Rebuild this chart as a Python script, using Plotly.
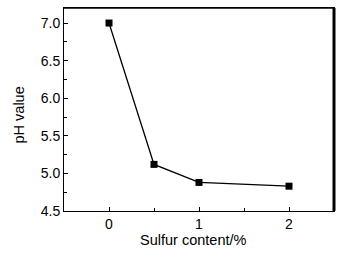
import plotly.graph_objects as go

sulfur = [0, 0.5, 1, 2]
ph = [7.0, 5.12, 4.88, 4.83]
x_ticks = [0, 1, 2]
y_ticks = [4.5, 5.0, 5.5, 6.0, 6.5, 7.0]

fig = go.Figure()
fig.add_trace(go.Scatter(
    x=sulfur, y=ph, mode="lines+markers",
    line=dict(color="black", width=1.3),
    marker=dict(symbol="square", size=7, color="black"),
    showlegend=False,
))

font = dict(family="Liberation Sans, Arial, sans-serif", color="black")
fig.update_layout(
    width=346, height=253,
    margin=dict(l=64, r=12, t=8, b=42),
    paper_bgcolor="white", plot_bgcolor="white",
    font=dict(**font, size=14),
)
fig.update_xaxes(
    range=[-0.5, 2.5], tickvals=x_ticks, ticktext=[str(v) for v in x_ticks],
    ticks="inside", ticklen=4, tickwidth=1, tickcolor="black",
    minor=dict(tickvals=[0.5, 1.5], ticks="inside", ticklen=3, tickcolor="black"),
    showline=True, linecolor="black", linewidth=1, mirror=True,
    showgrid=False, zeroline=False,
    tickfont=dict(size=14),
)
fig.update_yaxes(
    range=[4.5, 7.2], tickvals=y_ticks, ticktext=[f"{v:.1f}" for v in y_ticks],
    ticks="inside", ticklen=4, tickwidth=1, tickcolor="black",
    minor=dict(tickvals=[4.75, 5.25, 5.75, 6.25, 6.75], ticks="inside", ticklen=3, tickcolor="black"),
    showline=True, linecolor="black", linewidth=1, mirror=True,
    showgrid=False, zeroline=False,
    tickfont=dict(size=14),
)
fig.add_annotation(text="Sulfur content/%", xref="paper", yref="paper",
                   x=0.478, y=-0.145, xanchor="center", yanchor="middle",
                   showarrow=False, font=dict(size=14.5))
fig.add_annotation(text="pH value", xref="paper", yref="paper",
                   x=-0.167, y=0.475, xanchor="center", yanchor="middle",
                   textangle=-90, showarrow=False, font=dict(size=14.5))
fig.add_shape(type="line", xref="paper", yref="paper", x0=0, x1=1, y0=1, y1=1,
              line=dict(color="black", width=1.5))
fig.add_shape(type="line", xref="paper", yref="paper", x0=1, x1=1, y0=0, y1=1,
              line=dict(color="black", width=3))
fig.write_html("out.html", config={"displayModeBar": False},
               post_script="document.body.style.margin='0';document.body.style.overflow='hidden';")
